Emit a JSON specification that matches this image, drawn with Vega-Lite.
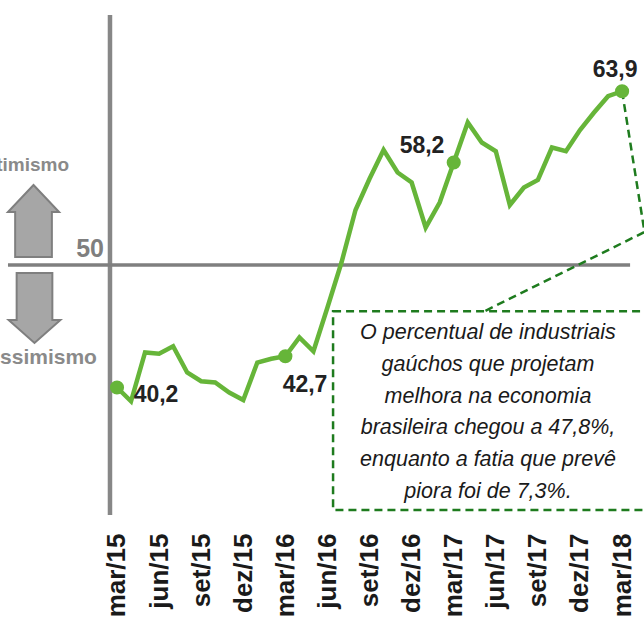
{
  "$schema": "https://vega.github.io/schema/vega-lite/v6.json",
  "width": 644,
  "height": 515,
  "autosize": {"type": "none"},
  "padding": {"left": 0, "top": 0, "right": 0, "bottom": 102},
  "background": "white",
  "config": {"view": {"stroke": null}},
  "datasets": {
    "serie": [
      {"mes": "mar/15", "x": 0, "y": 40.2},
      {"mes": "abr/15", "x": 1, "y": 39.1},
      {"mes": "mai/15", "x": 2, "y": 43.0},
      {"mes": "jun/15", "x": 3, "y": 42.9},
      {"mes": "jul/15", "x": 4, "y": 43.5},
      {"mes": "ago/15", "x": 5, "y": 41.4},
      {"mes": "set/15", "x": 6, "y": 40.7},
      {"mes": "out/15", "x": 7, "y": 40.6},
      {"mes": "nov/15", "x": 8, "y": 39.8},
      {"mes": "dez/15", "x": 9, "y": 39.2},
      {"mes": "jan/16", "x": 10, "y": 42.2},
      {"mes": "fev/16", "x": 11, "y": 42.5},
      {"mes": "mar/16", "x": 12, "y": 42.7},
      {"mes": "abr/16", "x": 13, "y": 44.2},
      {"mes": "mai/16", "x": 14, "y": 43.1},
      {"mes": "jun/16", "x": 15, "y": 46.6},
      {"mes": "jul/16", "x": 16, "y": 50.2},
      {"mes": "ago/16", "x": 17, "y": 54.4},
      {"mes": "set/16", "x": 18, "y": 56.9},
      {"mes": "out/16", "x": 19, "y": 59.2},
      {"mes": "nov/16", "x": 20, "y": 57.4},
      {"mes": "dez/16", "x": 21, "y": 56.6},
      {"mes": "jan/17", "x": 22, "y": 53.0},
      {"mes": "fev/17", "x": 23, "y": 55.0},
      {"mes": "mar/17", "x": 24, "y": 58.2},
      {"mes": "abr/17", "x": 25, "y": 61.4},
      {"mes": "mai/17", "x": 26, "y": 59.8},
      {"mes": "jun/17", "x": 27, "y": 59.1},
      {"mes": "jul/17", "x": 28, "y": 54.8},
      {"mes": "ago/17", "x": 29, "y": 56.2},
      {"mes": "set/17", "x": 30, "y": 56.8},
      {"mes": "out/17", "x": 31, "y": 59.4},
      {"mes": "nov/17", "x": 32, "y": 59.1},
      {"mes": "dez/17", "x": 33, "y": 60.8},
      {"mes": "jan/18", "x": 34, "y": 62.2},
      {"mes": "fev/18", "x": 35, "y": 63.5},
      {"mes": "mar/18", "x": 36, "y": 63.9}
    ],
    "rotulos": [
      {"x": 2.78, "y": 39.6, "t": "40,2"},
      {"x": 13.4, "y": 40.4, "t": "42,7"},
      {"x": 21.74, "y": 59.5, "t": "58,2"},
      {"x": 35.5, "y": 65.6, "t": "63,9"}
    ]
  },
  "encoding": {
    "x": {
      "field": "x",
      "type": "quantitative",
      "scale": {"domain": [-8.339, 37.562], "nice": false, "zero": false},
      "axis": {
        "values": [0, 3, 6, 9, 12, 15, 18, 21, 24, 27, 30, 33, 36],
        "labelExpr": "['mar/15','jun/15','set/15','dez/15','mar/16','jun/16','set/16','dez/16','mar/17','jun/17','set/17','dez/17','mar/18'][round(datum.value/3)]",
        "labelAngle": 270,
        "labelFont": "Liberation Sans",
        "labelFontWeight": "bold",
        "labelFontSize": 26,
        "labelColor": "#1a1a1a",
        "labelPadding": 18,
        "labelOverlap": false,
        "labelBound": false,
        "labelFlush": false,
        "domain": false,
        "ticks": false,
        "tickSize": 0,
        "grid": false,
        "title": null
      }
    },
    "y": {
      "field": "y",
      "type": "quantitative",
      "scale": {"domain": [30, 71.2], "nice": false, "zero": false},
      "axis": null
    }
  },
  "layer": [
    {
      "data": {"values": [{"x": -0.5, "y": 30, "y2": 70}]},
      "mark": {"type": "rule", "color": "#878787", "strokeWidth": 4.5},
      "encoding": {"y2": {"field": "y2"}}
    },
    {
      "data": {"values": [{"x": -7.77, "x2": 36.57, "y": 50}]},
      "mark": {"type": "rule", "color": "#7f7f7f", "strokeWidth": 3.5},
      "encoding": {"x2": {"field": "x2"}}
    },
    {
      "data": {"values": [{"x": -5.95, "y": 53.52}]},
      "mark": {
        "type": "point",
        "shape": "M0,-1 L0.71,-0.25 L0.51,-0.25 L0.51,1 L-0.51,1 L-0.51,-0.25 L-0.71,-0.25 Z",
        "size": 5184,
        "filled": true,
        "fill": "#a6a6a6",
        "stroke": "#7f7f7f",
        "strokeWidth": 2,
        "opacity": 1
      }
    },
    {
      "data": {"values": [{"x": -5.88, "y": 46.56}]},
      "mark": {
        "type": "point",
        "shape": "M-0.51,-1 L0.51,-1 L0.51,0.34 L0.74,0.34 L0,1 L-0.74,0.34 L-0.51,0.34 Z",
        "size": 4900,
        "filled": true,
        "fill": "#a6a6a6",
        "stroke": "#7f7f7f",
        "strokeWidth": 2,
        "opacity": 1
      }
    },
    {
      "data": {"values": [{"x": -3.42, "y": 58.0, "t": "Otimismo"}]},
      "mark": {"type": "text", "align": "right", "baseline": "middle", "font": "Liberation Sans", "fontWeight": "bold", "fontSize": 19, "color": "#8a8a8a"},
      "encoding": {"text": {"field": "t"}}
    },
    {
      "data": {"values": [{"x": -1.43, "y": 42.56, "t": "Pessimismo"}]},
      "mark": {"type": "text", "align": "right", "baseline": "middle", "font": "Liberation Sans", "fontWeight": "bold", "fontSize": 21, "color": "#8a8a8a"},
      "encoding": {"text": {"field": "t"}}
    },
    {
      "data": {"values": [{"x": -1.92, "y": 51.3, "t": "50"}]},
      "mark": {"type": "text", "align": "center", "baseline": "middle", "font": "Liberation Sans", "fontWeight": "bold", "fontSize": 25, "color": "#7f7f7f"},
      "encoding": {"text": {"field": "t"}}
    },
    {
      "data": {"values": [{"x": 15.4, "x2": 38.8, "y": 46.3, "y2": 30.4}]},
      "mark": {"type": "rect", "fill": null, "fillOpacity": 0, "stroke": "#1e7b1e", "strokeWidth": 2.5, "strokeDash": [8, 5]},
      "encoding": {"x2": {"field": "x2"}, "y2": {"field": "y2"}}
    },
    {
      "data": {"values": [
        {"o": 1, "x": 36, "y": 63.9},
        {"o": 2, "x": 37.6, "y": 52.64},
        {"o": 3, "x": 26.23, "y": 46.32}
      ]},
      "mark": {"type": "line", "color": "#1e7b1e", "strokeWidth": 2.5, "strokeDash": [8, 5]},
      "encoding": {"order": {"field": "o", "type": "quantitative"}}
    },
    {
      "data": {"name": "serie"},
      "mark": {"type": "line", "color": "#66b539", "strokeWidth": 4.5, "strokeJoin": "miter"},
      "encoding": {"order": {"field": "x", "type": "quantitative"}}
    },
    {
      "data": {"name": "serie"},
      "transform": [{"filter": "datum.x % 12 == 0"}],
      "mark": {"type": "circle", "size": 200, "color": "#66b539", "opacity": 1}
    },
    {
      "data": {"name": "rotulos"},
      "mark": {"type": "text", "align": "center", "baseline": "middle", "font": "Liberation Sans", "fontWeight": "bold", "fontSize": 23, "color": "#222222"},
      "encoding": {"text": {"field": "t"}}
    },
    {
      "data": {"values": [{"x": 26.44, "y": 44.56, "t": "O percentual de industriais\ngaúchos que projetam\nmelhora na economia\nbrasileira chegou a 47,8%,\nenquanto a fatia que prevê\npiora foi de 7,3%."}]},
      "mark": {"type": "text", "align": "center", "baseline": "middle", "lineBreak": "\n", "lineHeight": 31.8, "font": "Liberation Sans", "fontStyle": "italic", "fontSize": 21.5, "color": "#1a1a1a"},
      "encoding": {"text": {"field": "t"}}
    }
  ]
}
